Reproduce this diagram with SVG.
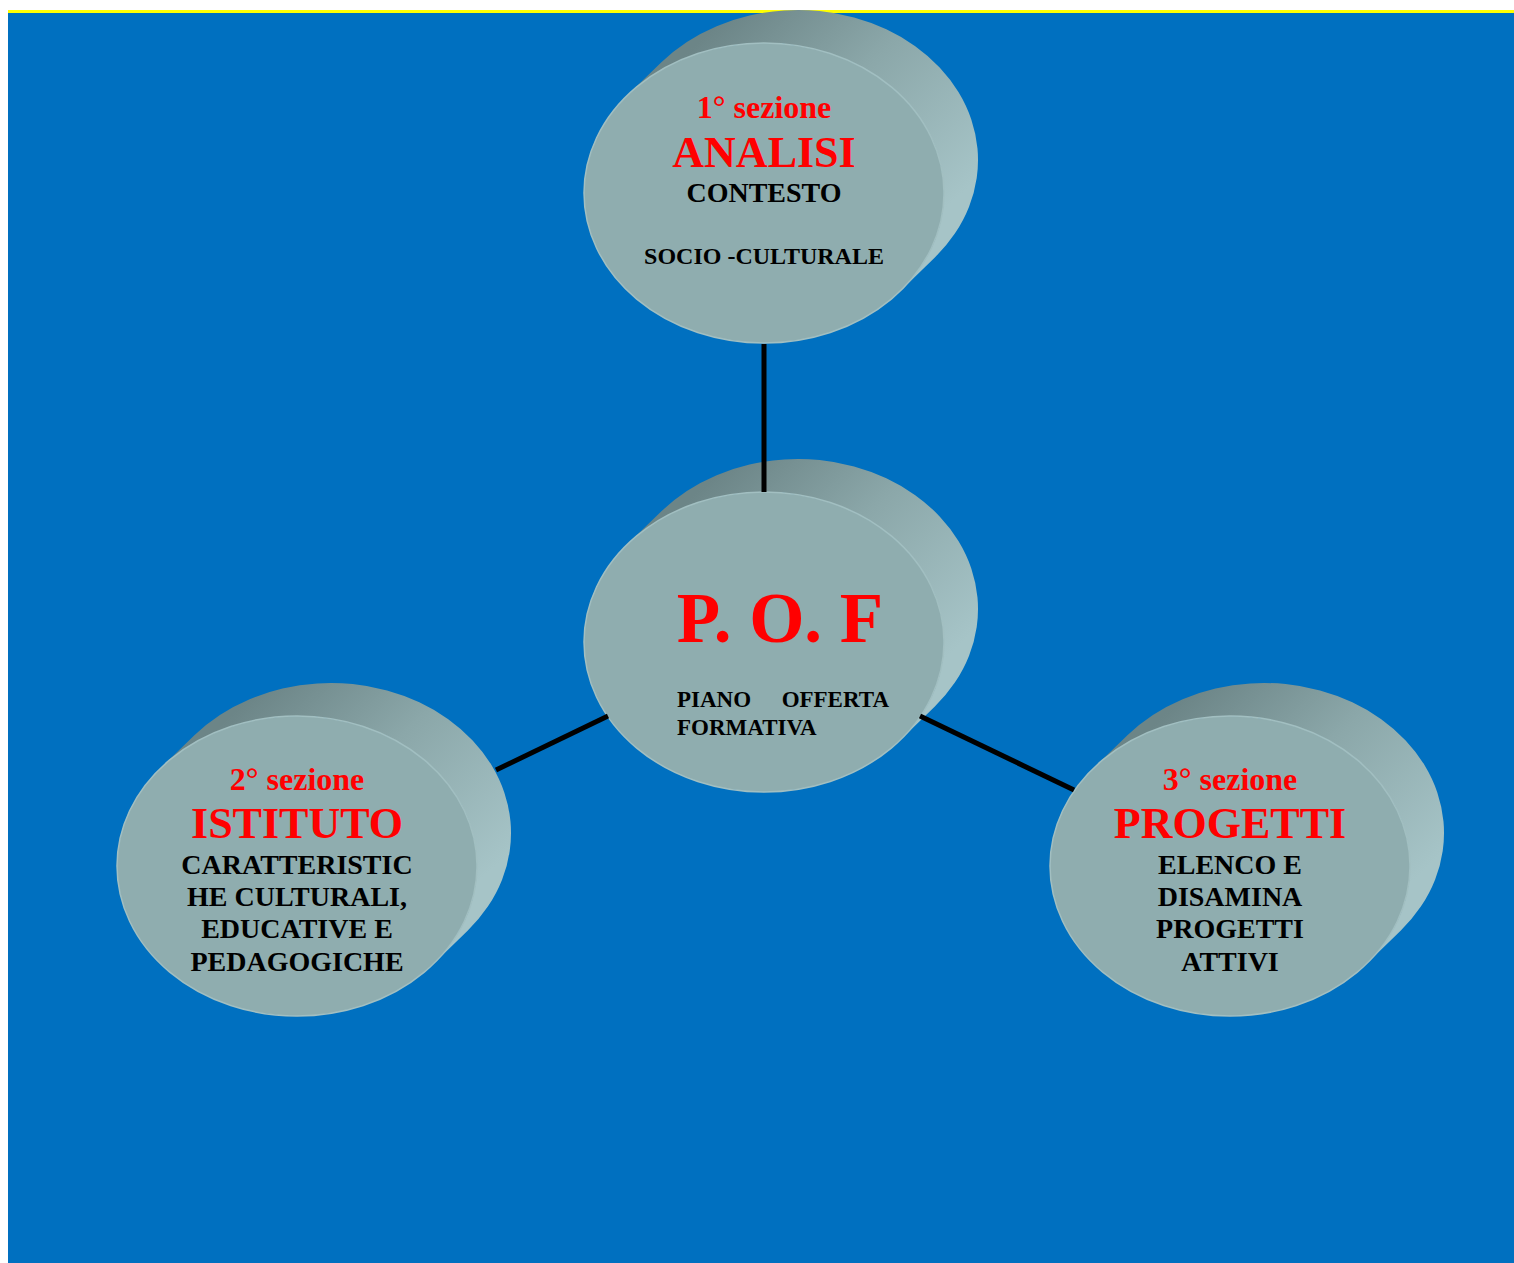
<svg xmlns="http://www.w3.org/2000/svg" xmlns:xlink="http://www.w3.org/1999/xlink" width="1514" height="1263" viewBox="0 0 1514 1263">
  <defs>
    <linearGradient id="sideGrad" x1="0.3" y1="0" x2="1" y2="0.6">
      <stop offset="0" stop-color="#6C8587"/>
      <stop offset="0.45" stop-color="#8BA7A9"/>
      <stop offset="1" stop-color="#A6C4C7"/>
    </linearGradient>
    <path id="side" d="M -136.6,-97.7 L -102.6,-130.7 A 180 150 0 1 1 170.6,64.7 L 136.6,97.7 A 180 150 0 0 0 -136.6,-97.7 Z" fill="url(#sideGrad)"/>
  </defs>
  <style>
    .face { fill: #8FADAF; stroke: #A2BFC1; stroke-width: 1.5; }
    .t { font-family: "Liberation Serif", "Times New Roman", serif; font-weight: bold; text-anchor: middle; }
    .red { fill: #FF0000; }
    .blk { fill: #000000; }
    .s32 { font-size: 32px; }
    .s44 { font-size: 44px; }
    .s28 { font-size: 28px; }
    .s24 { font-size: 24px; }
    .conn { stroke: #000000; stroke-width: 5; fill: none; }
  </style>

  <rect x="0" y="0" width="1514" height="1263" fill="#FFFFFF"/>
  <rect x="8" y="13" width="1506" height="1250" fill="#0070C0"/>
  <rect x="8" y="10" width="1506" height="3" fill="#FFFF00"/>

  <g id="node-analisi" transform="translate(764,193)">
    <use xlink:href="#side"/>
    <ellipse class="face" cx="0" cy="0" rx="180" ry="150"/>
    <text class="t red s32" x="0" y="-75">1° sezione</text>
    <text class="t red s44" x="0" y="-26">ANALISI</text>
    <text class="t blk s28" x="0" y="9">CONTESTO</text>
    <text class="t blk s24" x="0" y="71">SOCIO -CULTURALE</text>
  </g>

  <g id="node-pof" transform="translate(764,642)">
    <use xlink:href="#side"/>
    <ellipse class="face" cx="0" cy="0" rx="180" ry="150"/>
    <text class="t red" x="16" y="0" style="font-size:71px">P. O. F</text>
    <text class="t blk" style="font-size:23px;text-anchor:start"><tspan x="-87" y="65">PIANO</tspan><tspan x="125" y="65" text-anchor="end">OFFERTA</tspan><tspan x="-87" y="93">FORMATIVA</tspan></text>
  </g>

  <g id="node-istituto" transform="translate(297,866)">
    <use xlink:href="#side"/>
    <ellipse class="face" cx="0" cy="0" rx="180" ry="150"/>
    <text class="t red s32" x="0" y="-76">2° sezione</text>
    <text class="t red s44" x="0" y="-28">ISTITUTO</text>
    <text class="t blk s28" x="0" y="8">CARATTERISTIC</text>
    <text class="t blk s28" x="0" y="40">HE CULTURALI,</text>
    <text class="t blk s28" x="0" y="72">EDUCATIVE E</text>
    <text class="t blk s28" x="0" y="105">PEDAGOGICHE</text>
  </g>

  <g id="node-progetti" transform="translate(1230,866)">
    <use xlink:href="#side"/>
    <ellipse class="face" cx="0" cy="0" rx="180" ry="150"/>
    <text class="t red s32" x="0" y="-76">3° sezione</text>
    <text class="t red s44" x="0" y="-28">PROGETTI</text>
    <text class="t blk s28" x="0" y="8">ELENCO E</text>
    <text class="t blk s28" x="0" y="40">DISAMINA</text>
    <text class="t blk s28" x="0" y="72">PROGETTI</text>
    <text class="t blk s28" x="0" y="105">ATTIVI</text>
  </g>

  <g id="connectors">
    <line class="conn" x1="764" y1="344" x2="764" y2="492"/>
    <line class="conn" x1="496" y1="770" x2="608" y2="716"/>
    <line class="conn" x1="920" y1="716" x2="1074" y2="790"/>
  </g>
</svg>
